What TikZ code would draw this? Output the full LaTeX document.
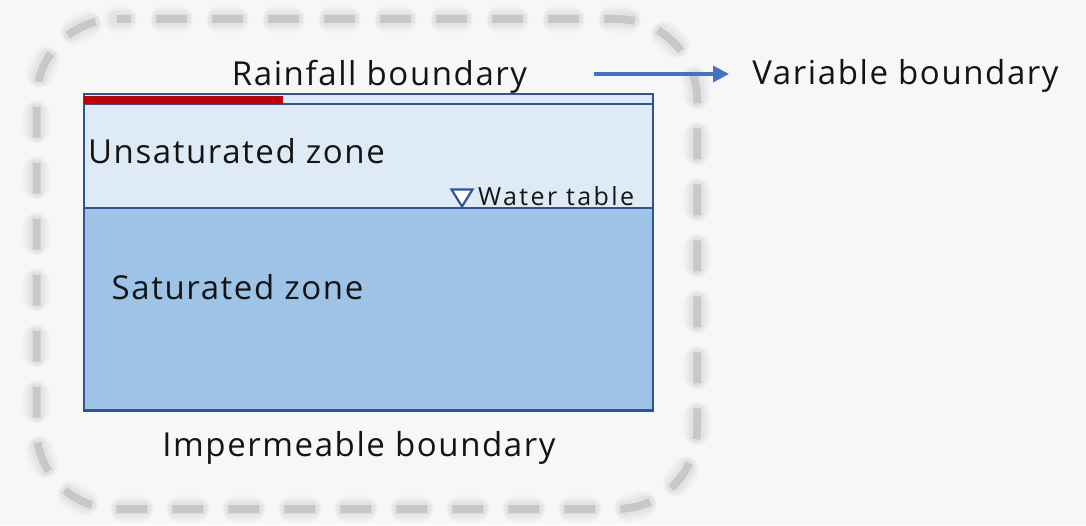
\documentclass[tikz,border=0pt]{standalone}
\usepackage{fontspec}
\setmainfont{Open Sans}[LetterSpace=4.8]
\newfontfamily\tablefont{Open Sans}[LetterSpace=9.5]
\usetikzlibrary{arrows.meta}
\definecolor{bg}{HTML}{F7F7F7}
\definecolor{dashgray}{HTML}{C8C8C8}
\definecolor{edgeblue}{HTML}{2F5597}
\definecolor{unsat}{HTML}{DEEBF7}
\definecolor{sat}{HTML}{9DC3E6}
\definecolor{rain}{HTML}{C00000}
\definecolor{arrowblue}{HTML}{4472C4}
\definecolor{ink}{HTML}{141414}

\begin{document}
\begin{tikzpicture}[x=1pt,y=1pt,
  txt/.style={font=\fontsize{33}{38}\selectfont, inner sep=0pt, text=ink},
  smalltxt/.style={font=\tablefont\fontsize{25}{29}\selectfont, inner sep=0pt, text=ink},
  zone/.style={draw=edgeblue, line width=2.2pt, inner sep=0pt, anchor=south west},
  outlinedash/.style={dash pattern=on 31pt off 25pt, dash phase=16.5pt},
]
\fill[bg] (0,0) rectangle (1086,525);
\useasboundingbox (0,0) rectangle (1086,525);

% model domain: dashed rounded outline with a soft halo
\foreach \w/\on/\off/\ph/\op in {28/15/41/8.5/0.02, 22/19/37/10.5/0.025, 16/23/33/12.5/0.03}{
  \draw[dash pattern=on \on pt off \off pt, dash phase=\ph pt, line cap=round,
        line width=\w pt, draw=black, opacity=\op]
    (116.5,506) -- (617,506) arc[start angle=90,end angle=0,radius=80]
    -- (697,96) arc[start angle=0,end angle=-90,radius=80]
    -- (116.5,16) arc[start angle=270,end angle=180,radius=80]
    -- (36.5,426) arc[start angle=180,end angle=90,radius=80] -- cycle;
}
\draw[outlinedash, line width=8pt, draw=dashgray]
    (116.5,506) -- (617,506) arc[start angle=90,end angle=0,radius=80]
    -- (697,96) arc[start angle=0,end angle=-90,radius=80]
    -- (116.5,16) arc[start angle=270,end angle=180,radius=80]
    -- (36.5,426) arc[start angle=180,end angle=90,radius=80] -- cycle;

% soil column
\node[zone, fill=unsat, minimum width=569pt, minimum height=104pt] (unsatbox) at (82.5,316) {};
\node[zone, fill=sat, minimum width=569pt, minimum height=202.5pt] (satbox) at (82.5,113.5) {};
\node[zone, fill=unsat, minimum width=569pt, minimum height=10pt] (strip) at (82.5,420) {};
\node[fill=rain, inner sep=0pt, anchor=south west, minimum width=199.4pt, minimum height=7.6pt] (rainpart) at (83.6,421.2) {};

% water table marker
\draw[edgeblue, line width=2.2pt, fill=white, line join=miter]
  (451.5,335.5) -- (472.5,335.5) -- (462,318.5) -- cycle;
\node[smalltxt, anchor=base west] (wtlbl) at (478,319) {Water table};

% labels
\node[txt, anchor=base] (rainlbl) at (379.5,439) {Rainfall boundary};
\node[txt, anchor=base] (varlbl) at (905.5,440) {Variable boundary};
\node[txt, anchor=base] (unsatlbl) at (236.5,361) {Unsaturated zone};
\node[txt, anchor=base] (satlbl) at (237.5,225) {Saturated zone};
\node[txt, anchor=base] (implbl) at (359,68.3) {Impermeable boundary};

% legend arrow
\coordinate (arrowtail) at (594,451);
\coordinate (arrowtip) at (729,451);
\draw[arrowblue, line width=3.6pt, -{Triangle[length=16pt,width=16pt]}] (arrowtail) -- (arrowtip);
\end{tikzpicture}
\end{document}
